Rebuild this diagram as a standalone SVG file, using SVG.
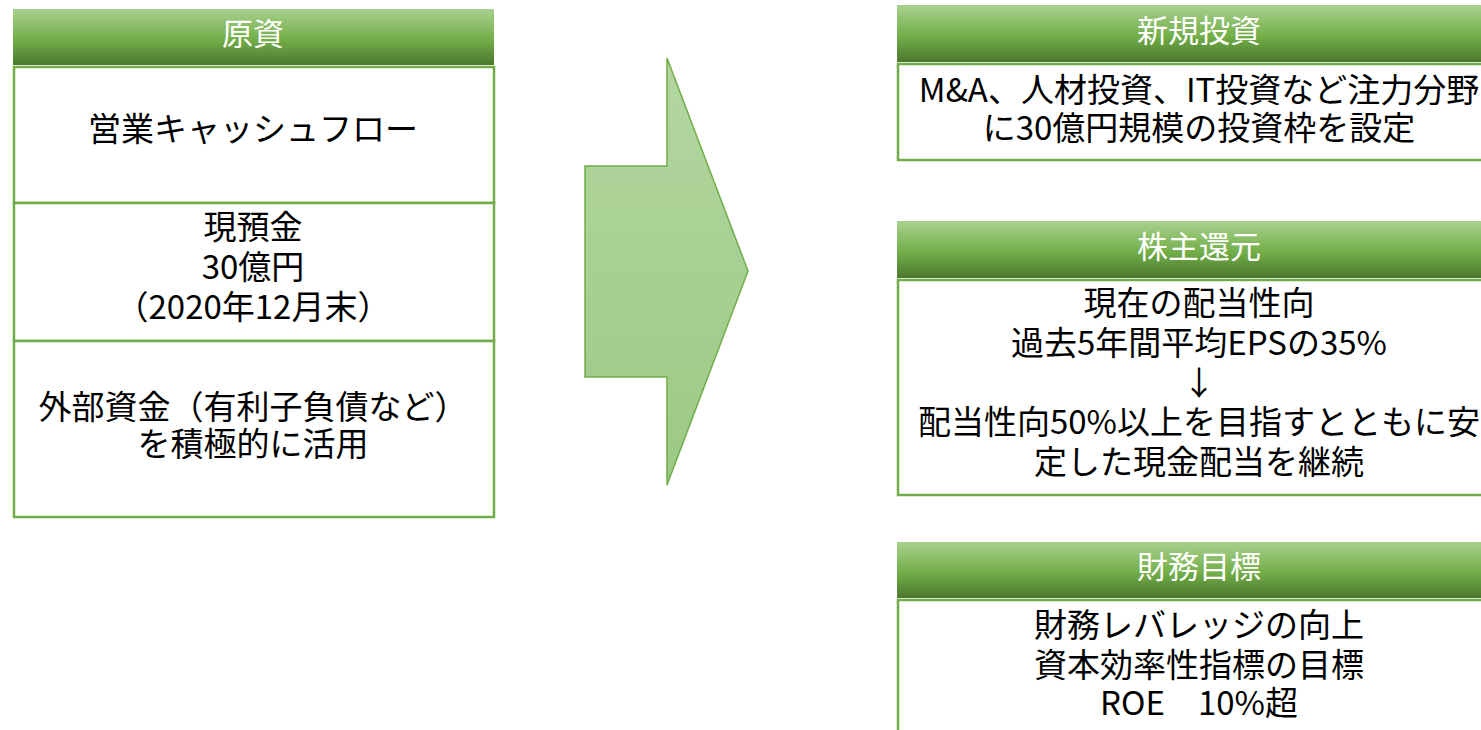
<svg xmlns="http://www.w3.org/2000/svg" width="1481" height="730" viewBox="0 0 1481 730">
<defs>
<linearGradient id="hdr" x1="0" y1="0" x2="0" y2="1">
<stop offset="0" stop-color="#a9d18e"/>
<stop offset="0.55" stop-color="#72ae48"/>
<stop offset="1" stop-color="#4b782e"/>
</linearGradient>
<linearGradient id="arr" x1="0" y1="0" x2="0" y2="1">
<stop offset="0" stop-color="#b3d6a1"/>
<stop offset="1" stop-color="#9cc985"/>
</linearGradient>
<style>
.hdr{fill:url(#hdr);}
.box{fill:#ffffff;stroke:#70ad47;stroke-width:2.5;}
.ht{font-family:"Noto Sans CJK JP","Noto Sans",sans-serif;font-size:31px;fill:#ffffff;text-anchor:middle;}
.bt{font-family:"Noto Sans CJK JP","Noto Sans",sans-serif;font-size:33px;fill:#000000;text-anchor:middle;}
</style>
</defs>
<rect width="1481" height="730" fill="#ffffff"/>
<g id="source">
<rect class="hdr" x="13" y="9" width="481" height="56"/>
<text class="ht" x="253" y="45">原資</text>
</g>
<g id="opcf">
<rect class="box" x="14" y="67" width="480" height="136"/>
<text class="bt" x="253" y="141">営業キャッシュフロー</text>
</g>
<g id="cash">
<rect class="box" x="14" y="203" width="480" height="138"/>
<text class="bt" x="253" y="239">現預金</text>
<text class="bt" x="253" y="279">30億円</text>
<text class="bt" x="253" y="319">（2020年12月末）</text>
</g>
<g id="external">
<rect class="box" x="14" y="341" width="480" height="176"/>
<text class="bt" x="253" y="419">外部資金（有利子負債など）</text>
<text class="bt" x="253" y="456">を積極的に活用</text>
</g>
<g id="connectors">
<polygon points="585,166 667,166 667,58 748,271 667,485 667,377 585,377" fill="url(#arr)" stroke="#70ad47" stroke-width="1.5"/>
</g>
<g id="invest">
<rect class="hdr" x="897" y="5" width="610" height="57"/>
<text class="ht" x="1199" y="42">新規投資</text>
<rect class="box" x="898" y="64" width="610" height="96"/>
<text class="bt" x="1199" y="102">M&amp;A、人材投資、IT投資など注力分野</text>
<text class="bt" x="1199" y="140">に30億円規模の投資枠を設定</text>
</g>
<g id="return">
<rect class="hdr" x="897" y="221" width="610" height="57"/>
<text class="ht" x="1199" y="258">株主還元</text>
<rect class="box" x="898" y="280" width="610" height="215"/>
<text class="bt" x="1199" y="315">現在の配当性向</text>
<text class="bt" x="1199" y="355">過去5年間平均EPSの35%</text>
<text class="bt" x="1199" y="395">↓</text>
<text class="bt" x="1199" y="434">配当性向50%以上を目指すとともに安</text>
<text class="bt" x="1199" y="474">定した現金配当を継続</text>
</g>
<g id="target">
<rect class="hdr" x="897" y="542" width="610" height="56"/>
<text class="ht" x="1199" y="578">財務目標</text>
<rect class="box" x="898" y="600" width="610" height="160"/>
<text class="bt" x="1199" y="637">財務レバレッジの向上</text>
<text class="bt" x="1199" y="677">資本効率性指標の目標</text>
<text class="bt" x="1199" y="715">ROE　10%超</text>
</g>
</svg>
